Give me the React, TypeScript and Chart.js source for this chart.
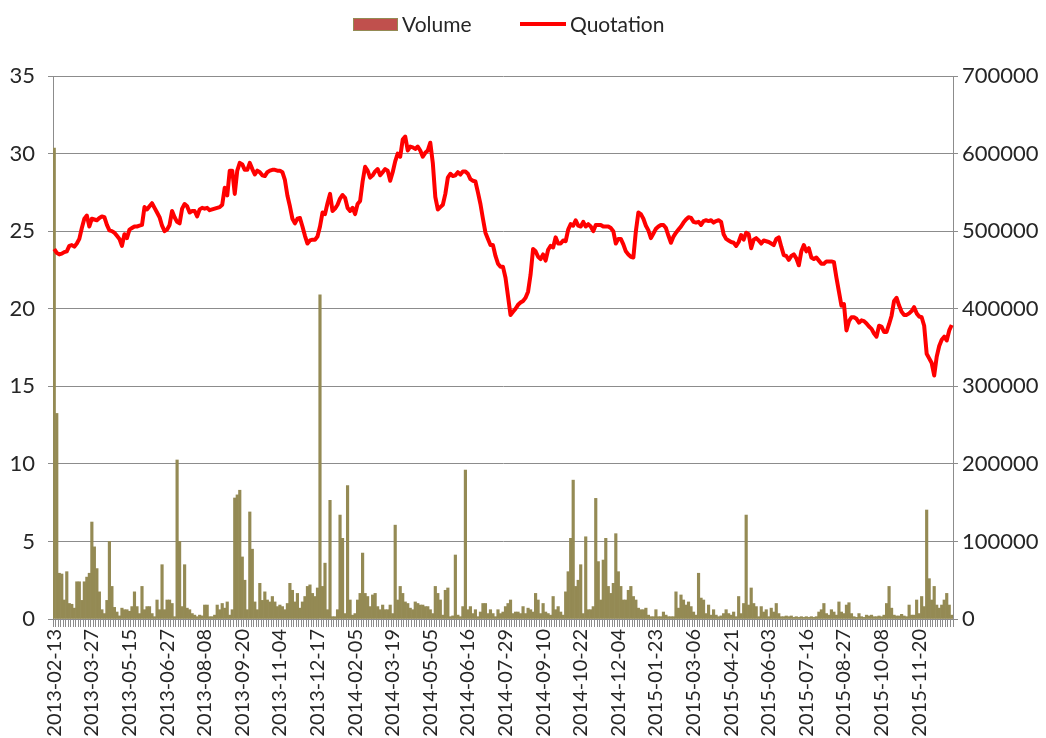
import React, { useEffect, useRef } from 'react';
import { Chart, registerables } from 'chart.js';

Chart.register(...registerables);

// Category tick labels (one every 30 trading days = every 15 two-day samples)
const TICK_LABELS = [
  '2013-02-13', '2013-03-27', '2013-05-15', '2013-06-27', '2013-08-08', '2013-09-20',
  '2013-11-04', '2013-12-17', '2014-02-05', '2014-03-19', '2014-05-05', '2014-06-16',
  '2014-07-29', '2014-09-10', '2014-10-22', '2014-12-04', '2015-01-23', '2015-03-06',
  '2015-04-21', '2015-06-03', '2015-07-16', '2015-08-27', '2015-10-08', '2015-11-20',
];
const SAMPLES_PER_LABEL = 15;

// Quotation (price), one sample per two trading days
const QUOTATION = [
  23.85, 23.6, 23.5, 23.55, 23.65, 23.7, 24.05, 24.1, 24.0, 24.2,
  24.5, 25.2, 25.8, 26.0, 25.3, 25.8, 25.75, 25.7, 25.85, 25.95,
  25.9, 25.4, 25.05, 25.0, 24.9, 24.7, 24.5, 24.05, 24.8, 24.55,
  25.1, 25.2, 25.3, 25.3, 25.35, 25.4, 26.55, 26.4, 26.6, 26.8,
  26.5, 26.2, 25.9, 25.35, 25.0, 25.1, 25.4, 26.3, 25.9, 25.6,
  25.5, 26.45, 26.75, 26.6, 26.2, 26.3, 26.3, 25.95, 26.4, 26.5,
  26.45, 26.5, 26.35, 26.4, 26.45, 26.5, 26.55, 26.7, 27.8, 27.3,
  28.9, 28.9, 27.4, 28.9, 29.4, 29.3, 28.95, 28.95, 29.4, 29.0,
  28.65, 28.9, 28.8, 28.6, 28.55, 28.8, 28.9, 28.95, 28.95, 28.9,
  28.9, 28.8, 28.3, 27.3, 26.6, 25.8, 25.5, 25.8, 25.85, 25.3,
  24.7, 24.2, 24.4, 24.45, 24.45, 24.65, 25.3, 26.2, 26.1, 26.8,
  27.4, 26.3, 26.45, 26.7, 27.1, 27.33, 27.15, 26.5, 26.3, 26.5,
  26.1, 26.75, 26.95, 28.2, 29.15, 28.9, 28.45, 28.6, 28.85, 29.0,
  28.6, 28.8, 29.0, 28.9, 28.25, 28.8, 29.5, 30.0, 29.8, 30.9,
  31.1, 30.2, 30.45, 30.4, 30.3, 30.45, 30.2, 29.8, 30.05, 30.2,
  30.7, 29.4, 27.2, 26.4, 26.55, 26.7, 27.4, 28.45, 28.7, 28.55,
  28.6, 28.8, 28.65, 28.85, 28.85, 28.7, 28.35, 28.25, 28.2, 27.5,
  26.75, 25.8, 24.9, 24.5, 24.1, 24.1, 23.4, 22.9, 22.7, 22.7,
  22.0, 20.8, 19.6, 19.8, 20.0, 20.25, 20.4, 20.5, 20.7, 21.1,
  22.2, 23.85, 23.7, 23.35, 23.2, 23.5, 23.1, 23.8, 24.05, 23.95,
  24.6, 24.2, 24.2, 24.4, 24.35, 25.1, 25.45, 25.35, 25.7, 25.35,
  25.3, 25.6, 25.3, 25.45, 25.3, 25.0, 25.4, 25.4, 25.4, 25.3,
  25.3, 25.3, 25.2, 25.0, 24.2, 24.5, 24.5, 24.15, 23.7, 23.5,
  23.35, 23.3, 25.0, 26.2, 26.1, 25.8, 25.35, 25.05, 24.55, 24.85,
  25.15, 25.3, 25.4, 25.4, 25.2, 24.7, 24.25, 24.65, 24.9, 25.1,
  25.3, 25.55, 25.75, 25.9, 25.85, 25.6, 25.55, 25.6, 25.4, 25.65,
  25.7, 25.65, 25.7, 25.55, 25.65, 25.7, 25.6, 24.8, 24.5, 24.4,
  24.3, 24.25, 24.05, 24.3, 24.75, 24.45, 24.9, 24.8, 23.9, 24.45,
  24.55, 24.4, 24.2, 24.4, 24.35, 24.3, 24.2, 24.1, 24.5, 24.6,
  24.0, 23.45, 23.4, 23.15, 23.4, 23.5, 23.25, 22.8, 23.7, 24.1,
  23.7, 23.9, 23.3, 23.2, 23.3, 23.1, 22.9, 22.9, 23.05, 23.05,
  23.05, 23.0, 22.0, 21.1, 20.2, 20.3, 18.6, 19.2, 19.45, 19.45,
  19.35, 19.1, 19.25, 19.2, 19.05, 18.85, 18.7, 18.4, 18.2, 18.9,
  18.85, 18.5, 18.5, 19.0, 19.55, 20.5, 20.7, 20.2, 19.8, 19.6,
  19.6, 19.7, 19.85, 20.1, 19.7, 19.5, 19.45, 18.9, 17.1, 16.8,
  16.5, 15.7, 16.9, 17.6, 18.0, 18.2, 17.95, 18.6, 18.95,
];

// Volume, one sample per two trading days
const VOLUME = [
  607000, 265000, 59000, 58000, 24500, 61000, 20000, 19000, 14000, 48000,
  48000, 24000, 48000, 54000, 59000, 125000, 93000, 65000, 35000, 12000,
  7000, 24000, 100000, 42000, 15000, 9000, 4000, 14000, 12000, 12000,
  10000, 16000, 35000, 16000, 7000, 42000, 12000, 16000, 16000, 7000,
  3000, 24500, 12000, 70000, 12000, 24500, 24500, 20000, 3000, 205000,
  100000, 16000, 70000, 14000, 12000, 7000, 5000, 3000, 5000, 4000,
  18000, 18000, 3000, 3000, 5000, 18000, 12000, 20000, 14000, 22000,
  5000, 12000, 156000, 160000, 166000, 80000, 50000, 12000, 138000, 90000,
  22000, 12000, 46000, 24000, 35000, 24500, 22000, 29000, 22000, 16000,
  18000, 16000, 12000, 20000, 46000, 37000, 22000, 33000, 14000, 22000,
  29000, 42000, 44000, 33000, 29000, 40000, 418000, 42000, 72000, 12000,
  153000, 3000, 3000, 12000, 134000, 104000, 7000, 172000, 24500, 5000,
  7000, 24500, 33000, 85000, 33000, 29000, 16000, 31000, 33000, 16000,
  12000, 18000, 12000, 12000, 18000, 7000, 121000, 24500, 42000, 33000,
  22000, 20000, 14000, 12000, 22000, 20000, 18000, 18000, 16000, 16000,
  12000, 7000, 42000, 33000, 24500, 5000, 37000, 40000, 3000, 4000,
  82500, 5000, 3000, 16000, 192000, 12000, 16000, 7000, 12000, 3000,
  9000, 20000, 20000, 7000, 12000, 7000, 3000, 12000, 7000, 9000,
  16000, 20000, 24500, 7000, 9000, 9000, 7000, 16000, 7000, 14000,
  12000, 9000, 33000, 24500, 7000, 20000, 9000, 7000, 5000, 29000,
  12000, 16000, 9000, 5000, 35000, 61000, 104000, 179000, 42000, 50000,
  70000, 7000, 106000, 12000, 12000, 16000, 155500, 74000, 24500, 76000,
  104000, 42000, 33000, 46000, 110000, 61000, 42000, 24500, 24500, 37000,
  42000, 29000, 24500, 14000, 12000, 12000, 14000, 5000, 3000, 3000,
  12000, 3000, 3000, 9000, 5000, 3000, 3000, 3000, 35000, 14000,
  31000, 24500, 18000, 22000, 16000, 9000, 5000, 59000, 27000, 24500,
  7000, 18000, 5000, 12000, 5000, 3000, 4000, 7000, 12000, 7000,
  5000, 9000, 3000, 29000, 7000, 20000, 134000, 18000, 40000, 20000,
  16000, 3000, 16000, 9000, 12000, 3000, 14000, 9000, 20000, 7000,
  3000, 3000, 3900, 3000, 3900, 2100, 3000, 2100, 3000, 2100,
  3000, 2100, 3000, 2100, 3000, 9000, 12000, 20000, 7000, 5000,
  12000, 9000, 5000, 22000, 9000, 7000, 18000, 21000, 7000, 3000,
  2100, 7000, 3000, 2100, 5000, 3900, 5000, 3000, 3000, 3900,
  3000, 5000, 20000, 42000, 14000, 5000, 3900, 3900, 6000, 3900,
  3000, 18000, 5000, 5000, 24500, 7000, 29000, 16000, 140500, 52000,
  24500, 42000, 18000, 14000, 18000, 24500, 33000, 18000, 5000,
];

const FONT_FAMILY = 'Lato, "Open Sans", "DejaVu Sans", sans-serif';
const TEXT_COLOR = '#262626';
const GRID_COLOR = '#8c8c8c';
const VOLUME_COLOR = '#948A54';
const VOLUME_LEGEND_FILL = '#C0504D';
const LINE_COLOR = '#FF0000';

export default function App() {
  const canvasRef = useRef<HTMLCanvasElement | null>(null);

  useEffect(() => {
    document.body.style.margin = '0';
    const canvas = canvasRef.current;
    if (!canvas) return;

    const labels = QUOTATION.map((_, i) =>
      i % SAMPLES_PER_LABEL === 0 && TICK_LABELS[i / SAMPLES_PER_LABEL]
        ? TICK_LABELS[i / SAMPLES_PER_LABEL]
        : ''
    );

    const tickFont = { family: FONT_FAMILY, size: 22 };
    const xTickFont = { family: FONT_FAMILY, size: 20 };

    const chart = new Chart(canvas, {
      type: 'bar',
      data: {
        labels,
        datasets: [
          {
            type: 'line',
            label: 'Quotation',
            data: QUOTATION,
            yAxisID: 'y',
            borderColor: LINE_COLOR,
            backgroundColor: LINE_COLOR,
            borderWidth: 4,
            pointRadius: 0,
            tension: 0,
            borderJoinStyle: 'round',
            order: 0,
          } as any,
          {
            type: 'bar',
            label: 'Volume',
            data: VOLUME,
            yAxisID: 'y1',
            backgroundColor: VOLUME_COLOR,
            borderWidth: 0,
            barPercentage: 1,
            categoryPercentage: 1,
            order: 1,
          },
        ],
      },
      options: {
        responsive: false,
        animation: false,
        events: [],
        layout: { padding: { top: 76, left: 0, right: 0, bottom: 0 } },
        plugins: {
          legend: { display: false },
          tooltip: { enabled: false },
        },
        scales: {
          x: {
            type: 'category',
            offset: true,
            grid: {
              display: true,
              drawOnChartArea: false,
              drawTicks: true,
              tickLength: 8,
              color: GRID_COLOR,
              offset: true,
            },
            border: { display: true, color: GRID_COLOR, width: 1 },
            ticks: {
              autoSkip: false,
              minRotation: 90,
              maxRotation: 90,
              padding: 2,
              color: TEXT_COLOR,
              font: xTickFont,
            },
            afterFit: (scale: any) => {
              scale.height = 119;
            },
          },
          y: {
            type: 'linear',
            position: 'left',
            min: 0,
            max: 35,
            ticks: { stepSize: 5, padding: 13, color: TEXT_COLOR, font: tickFont },
            grid: { color: GRID_COLOR, lineWidth: 1, drawTicks: true, tickLength: 5 },
            border: { display: true, color: GRID_COLOR, width: 1 },
            afterFit: (scale: any) => {
              scale.width = 53;
            },
          },
          y1: {
            type: 'linear',
            position: 'right',
            min: 0,
            max: 700000,
            ticks: {
              stepSize: 100000,
              padding: 4,
              color: TEXT_COLOR,
              font: tickFont,
              callback: (v: any) => String(v),
            },
            grid: { drawOnChartArea: false, drawTicks: true, tickLength: 5, color: GRID_COLOR },
            border: { display: true, color: GRID_COLOR, width: 1 },
            afterFit: (scale: any) => {
              scale.width = 93;
            },
          },
        },
      },
    });

    return () => {
      chart.destroy();
    };
  }, []);

  const legendText: React.CSSProperties = {
    position: 'absolute',
    fontFamily: FONT_FAMILY,
    fontSize: 21,
    color: TEXT_COLOR,
    lineHeight: '24px',
    top: 12,
    whiteSpace: 'nowrap',
  };

  return (
    <div style={{ position: 'relative', width: 1046, height: 738, background: '#fff', overflow: 'hidden' }}>
      <canvas ref={canvasRef} width={1046} height={738} style={{ display: 'block', width: 1046, height: 738 }} />
      <div
        style={{
          position: 'absolute',
          left: 353,
          top: 18,
          width: 43,
          height: 11,
          background: VOLUME_LEGEND_FILL,
          border: `1px solid ${VOLUME_COLOR}`,
        }}
      />
      <div style={{ ...legendText, left: 402 }}>Volume</div>
      <div
        style={{
          position: 'absolute',
          left: 520,
          top: 22,
          width: 46,
          height: 4,
          background: LINE_COLOR,
        }}
      />
      <div style={{ ...legendText, left: 570 }}>Quotation</div>
    </div>
  );
}
